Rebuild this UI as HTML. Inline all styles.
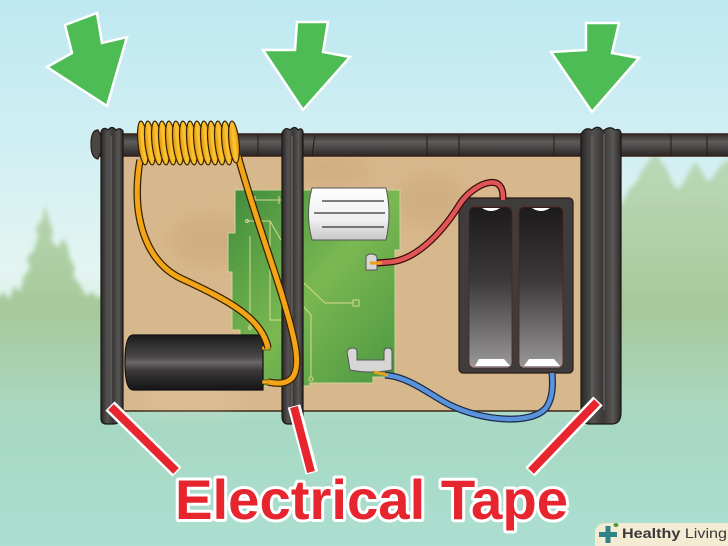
<!DOCTYPE html>
<html><head><meta charset="utf-8"><style>
html,body{margin:0;padding:0;background:#c1e9f2;}
svg{display:block;}
</style></head><body>
<svg width="728" height="546" viewBox="0 0 728 546" xmlns="http://www.w3.org/2000/svg">
<defs>
<linearGradient id="bg" x1="0" y1="0" x2="0" y2="1">
<stop offset="0" stop-color="#bee8f1"/>
<stop offset="0.3" stop-color="#d3f0f2"/>
<stop offset="0.5" stop-color="#e4f5f1"/>
<stop offset="0.68" stop-color="#c4e3cf"/>
<stop offset="0.78" stop-color="#a6d8c3"/>
<stop offset="1" stop-color="#acdfd1"/>
</linearGradient>
<linearGradient id="tree" x1="0" y1="150" x2="0" y2="440" gradientUnits="userSpaceOnUse">
<stop offset="0" stop-color="#b3d2a8" stop-opacity="0.8"/>
<stop offset="0.55" stop-color="#a3c796" stop-opacity="0.95"/>
<stop offset="0.8" stop-color="#a3cfae" stop-opacity="0.8"/>
<stop offset="1" stop-color="#a6d8c3" stop-opacity="0"/>
</linearGradient>
<linearGradient id="rod" x1="0" y1="0" x2="0" y2="1">
<stop offset="0" stop-color="#2f2d2c"/>
<stop offset="0.35" stop-color="#5e5c5a"/>
<stop offset="0.65" stop-color="#474544"/>
<stop offset="1" stop-color="#2a2827"/>
</linearGradient>
<linearGradient id="band" x1="0" y1="0" x2="1" y2="0">
<stop offset="0" stop-color="#2a2827"/>
<stop offset="0.3" stop-color="#555351"/>
<stop offset="0.55" stop-color="#3a3837"/>
<stop offset="0.8" stop-color="#5a5856"/>
<stop offset="1" stop-color="#2c2a29"/>
</linearGradient>
<linearGradient id="pcb" x1="0" y1="0" x2="1" y2="1">
<stop offset="0" stop-color="#3f8b3c"/>
<stop offset="0.5" stop-color="#7ab851"/>
<stop offset="1" stop-color="#4a9541"/>
</linearGradient>
<linearGradient id="cap" x1="0" y1="0" x2="0" y2="1">
<stop offset="0" stop-color="#1c1c1c"/>
<stop offset="0.4" stop-color="#4a4848"/>
<stop offset="0.5" stop-color="#6a6867"/>
<stop offset="0.65" stop-color="#3a3838"/>
<stop offset="1" stop-color="#151515"/>
</linearGradient>
<linearGradient id="white" x1="0" y1="0" x2="0" y2="1">
<stop offset="0" stop-color="#ffffff"/>
<stop offset="0.6" stop-color="#f0f0f0"/>
<stop offset="1" stop-color="#c8c8c8"/>
</linearGradient>
<linearGradient id="slot" x1="0" y1="0" x2="0" y2="1">
<stop offset="0" stop-color="#1c1a1a"/>
<stop offset="0.45" stop-color="#3a3838"/>
<stop offset="1" stop-color="#9a9898"/>
</linearGradient>
<linearGradient id="gold" x1="0" y1="0" x2="1" y2="0">
<stop offset="0" stop-color="#e08e10"/>
<stop offset="0.5" stop-color="#fcc830"/>
<stop offset="1" stop-color="#e49412"/>
</linearGradient>
<filter id="blur" x="-50%" y="-50%" width="200%" height="200%"><feGaussianBlur stdDeviation="10"/></filter>
<filter id="tblur" x="-20%" y="-20%" width="140%" height="140%"><feGaussianBlur stdDeviation="2.5"/></filter>
</defs>

<!-- background -->
<rect x="0" y="0" width="728" height="546" fill="url(#bg)"/>
<g filter="url(#tblur)">
<!-- trees left -->
<path d="M-5,440 L-5,300 L4,292 L9,300 L14,286 L20,292 L24,276 L30,268 L27,258 L34,250 L38,236 L36,228 L42,220 L45,205 L49,220 L53,232 L51,240 L58,248 L63,238 L67,245 L70,258 L75,268 L73,276 L80,285 L86,296 L92,292 L98,298 L104,295 L104,440 Z" fill="url(#tree)"/>
<!-- trees right -->
<path d="M615,440 L615,210 L624,200 L630,188 L637,182 L642,170 L650,160 L655,148 L660,160 L666,168 L672,182 L678,190 L684,182 L690,170 L696,162 L702,172 L708,182 L714,176 L720,166 L728,160 L733,160 L733,440 Z" fill="url(#tree)"/>
</g>

<!-- board -->
<rect x="122" y="155" width="460" height="256" fill="#d7b88c" stroke="#3a2818" stroke-width="1.5"/>
<g filter="url(#blur)" opacity="0.25">
<ellipse cx="210" cy="240" rx="40" ry="25" fill="#b8905e"/>
<ellipse cx="330" cy="170" rx="45" ry="14" fill="#b8905e"/>
<ellipse cx="430" cy="200" rx="35" ry="25" fill="#b8905e"/>
<ellipse cx="190" cy="400" rx="50" ry="10" fill="#f0dcb4"/>
</g>

<!-- rod -->
<rect x="96" y="134" width="640" height="22" fill="url(#rod)" stroke="#3a1e1a" stroke-width="1.5"/>
<g stroke="#2a1a18" stroke-width="1" fill="none">
<path d="M427,134 L427,156"/><path d="M459,134 L459,156"/><path d="M554,134 L554,156"/><path d="M671,134 L671,156"/><path d="M707,134 L707,156"/><path d="M258,134 L258,156"/><path d="M315,134 L312,156"/>
</g>
<path d="M98,130 Q91,130 91,144 Q91,158 98,159 L101,152 L101,136 Z" fill="#4a4644" stroke="#2a1a18" stroke-width="1.2"/>

<!-- PCB -->
<path d="M235,190 L400,190 L400,250 L395,250 L395,377 L373,377 L373,383 L310,383 L310,386 L240,386 L240,330 L232,330 L232,272 L228,272 L228,233 L235,233 Z" fill="url(#pcb)" stroke="#cfd39a" stroke-width="1"/>
<g stroke="#d8d890" stroke-width="1" fill="none">
<path d="M252,200 L281,200"/><path d="M255,196 L255,204"/><path d="M279,196 L279,204"/>
<path d="M247,221 L270,221 L281,240"/>
<path d="M250,236 L250,327"/><path d="M270,221 L270,320 L281,320"/>
<path d="M304,283 L325,303 L353,303"/>
<rect x="353" y="300" width="6" height="6"/>
<path d="M304,307 L311,315 L311,377"/>
<circle cx="311" cy="379" r="2"/>
<circle cx="247" cy="221" r="1.5"/><circle cx="250" cy="328" r="1.5"/>
</g>

<!-- white component -->
<path d="M312,188 L386,188 Q392,214 386,240 L312,240 Q305,214 312,188 Z" fill="url(#white)" stroke="#555" stroke-width="1"/>
<g stroke="#333" stroke-width="1.2"><path d="M322,201 L384,201"/><path d="M314,213 L385,213"/><path d="M322,227 L384,227"/></g>

<!-- clips -->
<path d="M366,268 L366,258 Q366,254 371,254 Q377,254 377,258 L377,270 L366,270 Z" fill="#d6d6d6" stroke="#555" stroke-width="1"/>
<path d="M347,352 Q348,348 353,348 Q357,348 357,352 L357,360 L384,360 L384,352 Q384,348 388,348 Q392,348 392,352 L392,370 Q370,374 350,370 Z" fill="#d6d6d6" stroke="#555" stroke-width="1"/>

<!-- battery holder -->
<rect x="459" y="198" width="114" height="175" rx="4" fill="#3f3d3c" stroke="#2a1a1a" stroke-width="1.2"/>
<rect x="469" y="207" width="43" height="161" rx="5" fill="url(#slot)" stroke="#5a2020" stroke-width="0.8"/>
<rect x="519" y="207" width="44" height="161" rx="5" fill="url(#slot)" stroke="#5a2020" stroke-width="0.8"/>
<path d="M482,208 Q491,214 500,208 Z" fill="#fff"/>
<path d="M532,208 Q541,214 550,208 Z" fill="#fff"/>
<path d="M475,366 L479,359 L504,359 L510,366 Z" fill="#fff"/>
<path d="M524,366 L529,359 L554,359 L560,366 Z" fill="#fff"/>

<!-- red wire -->
<path d="M377,263 L390,262 C 415,260 440,235 458,207 C 468,190 488,178 498,184 C 503,188 503,194 503,200" fill="none" stroke="#3a0a0a" stroke-width="7"/>
<path d="M377,263 L390,262 C 415,260 440,235 458,207 C 468,190 488,178 498,184 C 503,188 503,194 503,200" fill="none" stroke="#e05656" stroke-width="4.5"/>
<path d="M370,263 L382,263" stroke="#e8a020" stroke-width="3"/>

<!-- blue wire -->
<path d="M385,375 C 410,377 430,395 450,405 C 480,420 530,426 546,408 C 553,398 553,385 552,373" fill="none" stroke="#1a2a4a" stroke-width="7"/>
<path d="M385,375 C 410,377 430,395 450,405 C 480,420 530,426 546,408 C 553,398 553,385 552,373" fill="none" stroke="#5b92dc" stroke-width="4.5"/>
<path d="M374,372 L388,375" stroke="#e8a020" stroke-width="3"/>

<!-- capacitor -->
<path d="M133,335 L263,335 L263,390 L133,390 Q125,390 125,362 Q125,335 133,335 Z" fill="url(#cap)" stroke="#111" stroke-width="1.2"/>
<rect x="262" y="346" width="8" height="4" fill="#f0b020" stroke="#3a2000" stroke-width="0.6"/>
<rect x="262" y="380" width="10" height="4" fill="#f0b020" stroke="#3a2000" stroke-width="0.6"/>

<!-- bands -->
<path d="M101,132 Q103,126 108,130 Q112,125 116,130 Q120,127 123,131 L123,410 Q123,424 113,424 L106,424 Q101,424 101,418 Z" fill="url(#band)" stroke="#1a1616" stroke-width="1.2"/>
<path d="M111,136 L111,405" stroke="#6d6b69" stroke-width="1.5" opacity="0.7"/>
<path d="M282,133 Q285,126 290,130 Q295,125 298,130 Q302,127 303,132 L303,418 Q303,424 297,424 L288,424 Q282,424 282,416 Z" fill="url(#band)" stroke="#1a1616" stroke-width="1.2"/>
<path d="M292,136 L292,410" stroke="#6d6b69" stroke-width="1.5" opacity="0.7"/>
<path d="M581,134 Q586,126 592,130 Q598,124 603,131 Q610,125 615,130 Q620,128 621,133 L621,412 Q621,424 612,424 L590,424 Q581,424 581,416 Z" fill="url(#band)" stroke="#1a1616" stroke-width="1.2"/>
<path d="M592,136 L592,405" stroke="#6d6b69" stroke-width="1.5" opacity="0.7"/>
<path d="M604,134 L604,410" stroke="#6d6b69" stroke-width="1.5" opacity="0.7"/>

<!-- coil wires -->
<path d="M140,160 C 130,220 148,262 180,278 C 228,300 262,318 268,348" fill="none" stroke="#3a2000" stroke-width="7.5"/>
<path d="M140,160 C 130,220 148,262 180,278 C 228,300 262,318 268,348" fill="none" stroke="#f2a516" stroke-width="5"/>
<path d="M238,156 C 250,200 266,245 281,292 C 295,338 302,366 292,378 C 286,384 278,384 268,382" fill="none" stroke="#3a2000" stroke-width="7.5"/>
<path d="M238,156 C 250,200 266,245 281,292 C 295,338 302,366 292,378 C 286,384 278,384 268,382" fill="none" stroke="#f2a516" stroke-width="5"/>

<!-- coil loops -->
<g stroke="#3a2000" stroke-width="1.2" fill="url(#gold)">
<ellipse cx="143" cy="143" rx="5" ry="22" transform="rotate(-6 143 143)"/>
<ellipse cx="150" cy="143" rx="5" ry="22" transform="rotate(-6 150 143)"/>
<ellipse cx="157" cy="143" rx="5" ry="22" transform="rotate(-6 157 143)"/>
<ellipse cx="164" cy="143" rx="5" ry="22" transform="rotate(-6 164 143)"/>
<ellipse cx="171" cy="143" rx="5" ry="22" transform="rotate(-6 171 143)"/>
<ellipse cx="178" cy="143" rx="5" ry="22" transform="rotate(-6 178 143)"/>
<ellipse cx="185" cy="143" rx="5" ry="22" transform="rotate(-6 185 143)"/>
<ellipse cx="192" cy="143" rx="5" ry="22" transform="rotate(-6 192 143)"/>
<ellipse cx="199" cy="143" rx="5" ry="22" transform="rotate(-6 199 143)"/>
<ellipse cx="206" cy="143" rx="5" ry="22" transform="rotate(-6 206 143)"/>
<ellipse cx="213" cy="143" rx="5" ry="22" transform="rotate(-6 213 143)"/>
<ellipse cx="220" cy="143" rx="5" ry="22" transform="rotate(-6 220 143)"/>
<ellipse cx="227" cy="143" rx="5" ry="22" transform="rotate(-6 227 143)"/>
<ellipse cx="234" cy="142" rx="5" ry="21" transform="rotate(-6 234 142)"/>
</g>

<!-- green arrows -->
<g fill="#4dbc55" stroke="#ffffff" stroke-width="2.5" stroke-linejoin="miter">
<polygon points="65,25 97,13 102,43 127,37 107,106 47,67 72,53"/>
<polygon points="297,22 328,22 323,52 350,57 303,110 263,50 295,50"/>
<polygon points="586,23 619,23 612,53 639,58 592,112 551,52 586,50"/>
</g>

<!-- red leader lines -->
<g stroke="#ffffff" stroke-width="13" stroke-linecap="butt">
<path d="M110,406 L177,472"/><path d="M294,406 L312,473"/><path d="M598,401 L530,472"/>
</g>
<g stroke="#e6252e" stroke-width="8" stroke-linecap="butt">
<path d="M111,407 L176,471"/><path d="M294,407 L311,472"/><path d="M597,402 L531,471"/>
</g>

<!-- label -->
<text x="175" y="519" font-family="'Liberation Sans', Arial, sans-serif" font-weight="bold" font-size="56" fill="#e6252e" stroke="#ffffff" stroke-width="6" stroke-linejoin="round" paint-order="stroke" textLength="393" lengthAdjust="spacingAndGlyphs">Electrical Tape</text>

<!-- logo -->
<rect x="595" y="523" width="150" height="32" rx="10" fill="#f3ecd3"/>
<rect x="599" y="532" width="18" height="5" fill="#2f8287"/>
<rect x="605.5" y="526" width="5" height="17" fill="#2f8287"/>
<ellipse cx="616" cy="525" rx="2.5" ry="2" fill="#4a9a3a"/>
<text x="622" y="538" font-family="'Liberation Sans', Arial, sans-serif" font-size="14" fill="#383838" textLength="105" lengthAdjust="spacingAndGlyphs"><tspan font-weight="bold">Healthy</tspan> Living</text>
</svg>
</body></html>
